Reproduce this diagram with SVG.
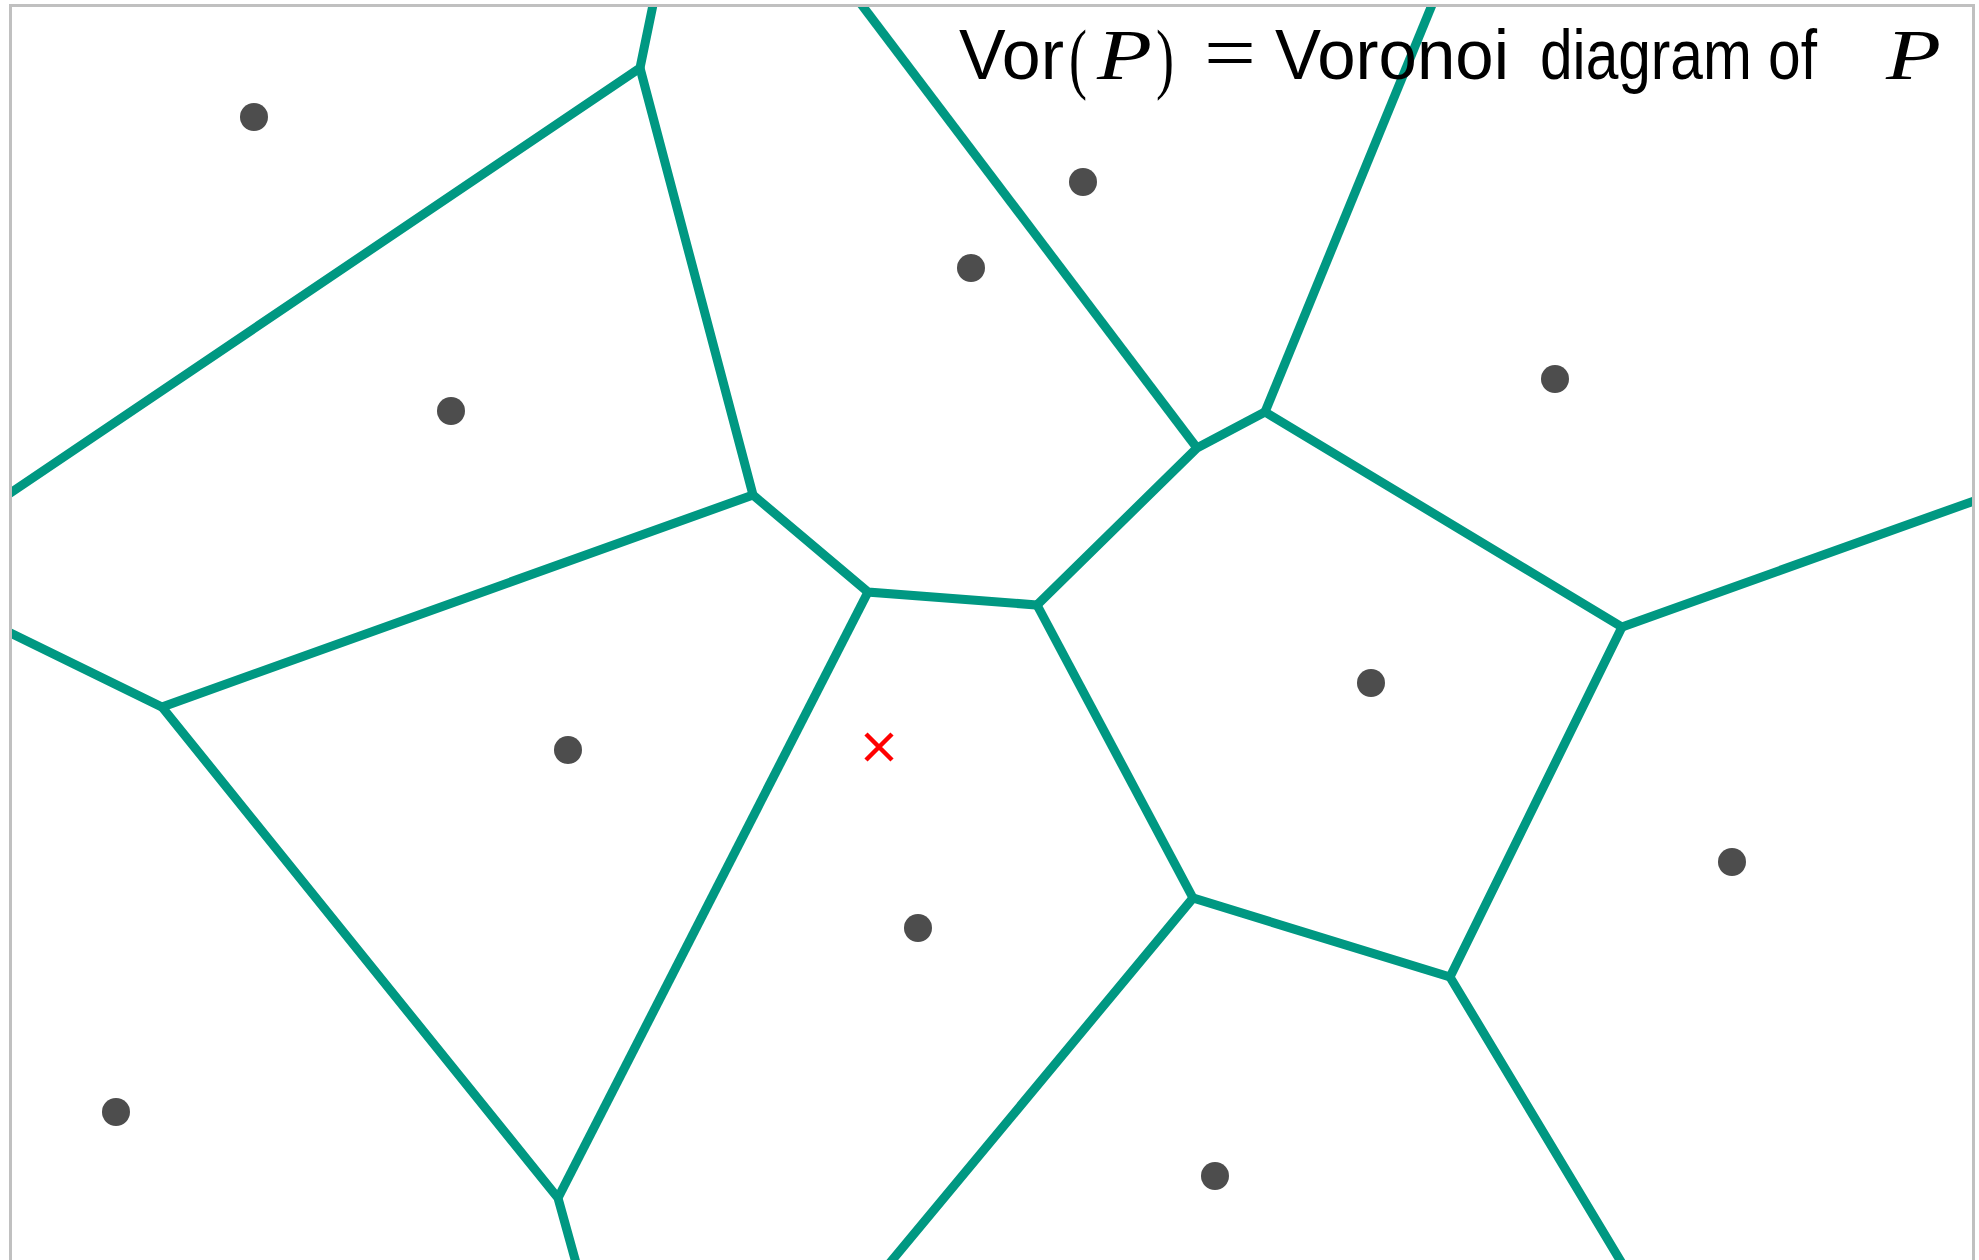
<svg xmlns="http://www.w3.org/2000/svg" width="1979" height="1260" viewBox="0 0 1979 1260">
<style>
.edge{stroke:#009882;stroke-width:9;fill:none;stroke-linejoin:miter}
.site{fill:#4d4d4d}
.sans{font-family:"Liberation Sans","DejaVu Sans",sans-serif;font-size:70px;fill:#000}
.math{font-family:"Liberation Serif","DejaVu Serif",serif;fill:#000}
</style>
<defs>
<clipPath id="frameClip"><rect x="12" y="7" width="1960" height="1260"/></clipPath>
</defs>
<rect x="0" y="0" width="1979" height="1260" fill="#fff"/>
<rect id="frame" x="10.5" y="5.5" width="1963" height="1262" fill="none" stroke="#c0c0c0" stroke-width="3"/>
<g id="connectors" clip-path="url(#frameClip)">
<path class="edge" d="M654,0 L640,68 L0,500"/>
<path class="edge" d="M640,68 L753,495 L868,592 L1037,605 L1197,448 L1265,412 L1622,627 L1985,497"/>
<path class="edge" d="M753,495 L162,707 L0,628"/>
<path class="edge" d="M162,707 L558,1198 L578,1270"/>
<path class="edge" d="M558,1198 L868,592"/>
<path class="edge" d="M1197,448 L858,0"/>
<path class="edge" d="M1265,412 L1434,0"/>
<path class="edge" d="M1622,627 L1450,977 L1626,1270"/>
<path class="edge" d="M1450,977 L1193,898 L884,1270"/>
<path class="edge" d="M1193,898 L1037,605"/>
</g>
<g id="sites">
<circle class="site" cx="254" cy="117" r="14"/>
<circle class="site" cx="451" cy="411" r="14"/>
<circle class="site" cx="1083" cy="182" r="14"/>
<circle class="site" cx="971" cy="268" r="14"/>
<circle class="site" cx="1555" cy="379" r="14"/>
<circle class="site" cx="568" cy="750" r="14"/>
<circle class="site" cx="1371" cy="683" r="14"/>
<circle class="site" cx="918" cy="928" r="14"/>
<circle class="site" cx="1732" cy="862" r="14"/>
<circle class="site" cx="116" cy="1112" r="14"/>
<circle class="site" cx="1215" cy="1176" r="14"/>
</g>
<g id="query">
<path d="M866,734 L892,760 M892,734 L866,760" stroke="#ff0000" stroke-width="4.5" fill="none"/>
</g>
<g id="title">
<text class="sans" x="959" y="79" textLength="105" lengthAdjust="spacingAndGlyphs">Vor</text>
<text class="math" x="1069" y="84" font-size="78" textLength="18" lengthAdjust="spacingAndGlyphs">(</text>
<text class="math" x="1097" y="79" font-size="72" font-style="italic" textLength="55" lengthAdjust="spacingAndGlyphs">P</text>
<text class="math" x="1156" y="84" font-size="78" textLength="18" lengthAdjust="spacingAndGlyphs">)</text>
<text class="math" x="1204" y="79" font-size="78" textLength="52" lengthAdjust="spacingAndGlyphs">=</text>
<text class="sans" x="1275" y="79" textLength="234" lengthAdjust="spacingAndGlyphs">Voronoi</text>
<text class="sans" x="1540" y="79" textLength="277" lengthAdjust="spacingAndGlyphs">diagram of</text>
<text class="math" x="1886" y="79" font-size="72" font-style="italic" textLength="55" lengthAdjust="spacingAndGlyphs">P</text>
</g>
</svg>
